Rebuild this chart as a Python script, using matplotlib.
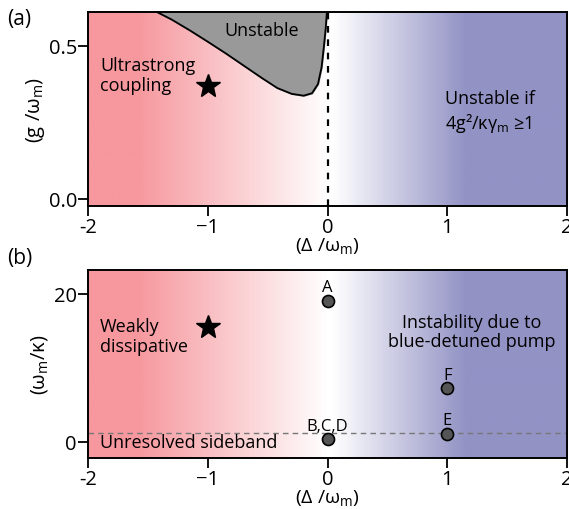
import numpy as np
import matplotlib
matplotlib.use('Agg')
import matplotlib.pyplot as plt
from matplotlib.colors import LinearSegmentedColormap

plt.rcParams['font.family'] = ['Open Sans', 'DejaVu Sans']
plt.rcParams['mathtext.fontset'] = 'custom'
plt.rcParams['mathtext.rm'] = 'Open Sans'
plt.rcParams['font.size'] = 13

# stability boundary of panel (a) (detuning, coupling)
bound_x = [-1.45, -1.3, -1.15, -1.0, -0.85, -0.7, -0.55, -0.42, -0.3, -0.2, -0.13, -0.08, -0.05, -0.03, -0.015, -0.005]
bound_y = [0.615, 0.585, 0.55, 0.513, 0.475, 0.435, 0.395, 0.362, 0.343, 0.337, 0.345, 0.375, 0.43, 0.5, 0.56, 0.615]

# experiments in panel (b)
pt_labels = ['A', 'B,C,D', 'E', 'F']
pt_x = [0, 0, 1, 1]
pt_y = [19.0, 0.3, 1.0, 7.2]

star_a = (-1, 0.37)
star_b = (-1, 15.5)
sideband_limit = 1.2

red = (246/255, 152/255, 158/255)
blue = (146/255, 146/255, 197/255)
cmap = LinearSegmentedColormap.from_list('rb', [(0, red), (0.1, red), (0.5, 'white'), (0.51, 'white'), (0.79, blue), (1, blue)])

fig = plt.figure(figsize=(5.69, 5.10), dpi=100)
ax1 = fig.add_axes([0.1547, 0.5941, 0.842, 0.3804])
ax2 = fig.add_axes([0.1547, 0.1, 0.842, 0.3686])

grad = np.linspace(0, 1, 400).reshape(1, -1)
xt = [-2, -1, 0, 1, 2]
xtl = ['-2', '\u22121', '0', '1', '2']

for ax, ylim in [(ax1, (-0.023, 0.61)), (ax2, (-2.2, 23.2))]:
    ax.imshow(grad, cmap=cmap, aspect='auto', extent=[-2, 2, ylim[0], ylim[1]], zorder=0)
    ax.set_xlim(-2, 2)
    ax.set_ylim(*ylim)
    ax.set_xticks(xt)
    ax.set_xticklabels(xtl)
    ax.tick_params(direction='out', length=7, width=1.3, labelsize=14.5, pad=1)
    for s in ax.spines.values():
        s.set_linewidth(1.4)
    ax.set_xlabel('(\u0394 /\u03c9$_\\mathregular{m}$)', fontsize=14, labelpad=-1)

# panel (a)
ax1.fill_between(bound_x, bound_y, 0.62, color='#999999', zorder=1)
ax1.plot(bound_x, bound_y, color='black', lw=1.3, zorder=2)
ax1.plot([0, 0], [-0.023, 0.61], color='black', ls=(0, (3, 3)), lw=1.6, zorder=2)
ax1.set_yticks([0.0, 0.5])
ax1.set_yticklabels(['0.0', '0.5'])
ax1.set_ylabel('(g /\u03c9$_\\mathregular{m}$)', fontsize=14.5, labelpad=1)
ax1.plot(*star_a, marker='*', color='black', ms=18, zorder=3)
ax1.text(-0.55, 0.55, 'Unstable', ha='center', va='center')
ax1.text(-1.9, 0.405, 'Ultrastrong\ncoupling', ha='left', va='center', linespacing=1.1)
ax1.text(0.98, 0.285, 'Unstable if\n4g\u00b2/\u03ba\u03b3$_\\mathregular{m}$ \u22651', ha='left', va='center',
         linespacing=1.25)

# panel (b)
ax2.axhline(sideband_limit, color='#777777', ls=(0, (4, 3)), lw=1.0, zorder=1)
ax2.set_yticks([0, 20])
ax2.set_ylabel('(\u03c9$_\\mathregular{m}$/\u03ba)', fontsize=14.5, labelpad=3)
ax2.plot(*star_b, marker='*', color='black', ms=18, zorder=3)
ax2.scatter(pt_x, pt_y, s=75, color='#555555', edgecolor='black', linewidth=1.2, zorder=3)
for lab, x, y in zip(pt_labels, pt_x, pt_y):
    ax2.text(x, y + 0.8, lab, ha='center', va='bottom', fontsize=12)
ax2.text(-1.9, 14.3, 'Weakly\ndissipative', ha='left', va='center', linespacing=1.1)
ax2.text(1.2, 14.9, 'Instability due to\nblue-detuned pump', ha='center', va='center', linespacing=1.1)
ax2.text(-1.9, -0.1, 'Unresolved sideband', ha='left', va='center')

fig.text(0.012, 0.962, '(a)', fontsize=15, va='center')
fig.text(0.012, 0.494, '(b)', fontsize=15, va='center')

fig.savefig('out.png', dpi=100)
